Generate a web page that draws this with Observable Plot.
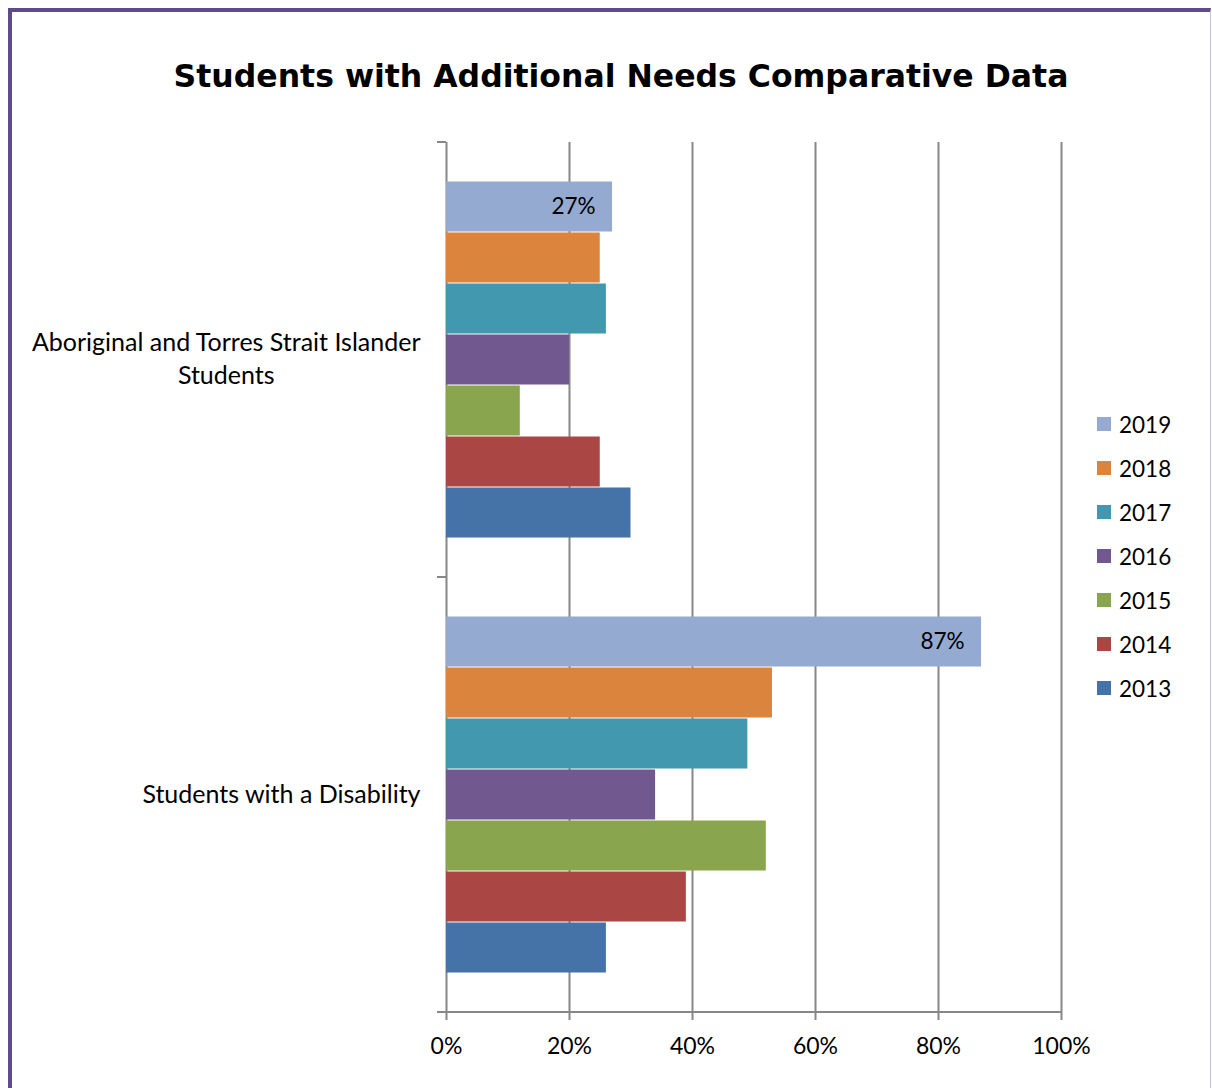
<!DOCTYPE html>
<html>
<head>
<meta charset="utf-8">
<script src="https://cdn.jsdelivr.net/npm/d3@7"></script>
<script src="https://cdn.jsdelivr.net/npm/@observablehq/plot@0.6"></script>
<style>
  html, body { margin: 0; padding: 0; background: #fff; overflow: hidden; }
  #frame {
    position: absolute; left: 8px; top: 8px; width: 1198px; height: 1100px;
    border-left: 4px solid #5f4b8b; border-top: 4px solid #5f4b8b;
    border-right: 1px solid #c9c5d6; background: #fff;
  }
  #title {
    position: absolute; left: 609px; top: 46px; transform: translateX(-50%);
    white-space: nowrap; font-family: "DejaVu Sans", Verdana, sans-serif;
    font-weight: bold; font-size: 31.5px; color: #000;
  }
  #chart { position: absolute; left: 0; top: 88px; }
  #legend {
    position: absolute; left: 1085px; top: 390px;
    font-family: Lato, sans-serif; font-size: 22.5px; color: #000;
  }
  .item { display: flex; align-items: center; height: 44px; }
  .swatch { width: 14px; height: 14px; margin-right: 8px; }
</style>
</head>
<body>
<div id="frame">
  <div id="title">Students with Additional Needs Comparative Data</div>
  <div id="chart"></div>
  <div id="legend"></div>
</div>
<script>
// Categories and their wrapped axis labels
const categories = ["Aboriginal and Torres Strait Islander Students", "Students with a Disability"];
const categoryLabels = ["Aboriginal and Torres Strait Islander\nStudents", "Students with a Disability"];

// Years, listed top to bottom within each group
const years = ["2019", "2018", "2017", "2016", "2015", "2014", "2013"];
const yearColors = ["#95aad0", "#db843d", "#4198af", "#71588f", "#89a54e", "#aa4643", "#4572a7"];

// Percentage of students, by year
const aboriginalValues = [27, 25, 26, 20, 12, 25, 30];
const disabilityValues = [87, 53, 49, 34, 52, 39, 26];

// X axis ticks (percent)
const xTicks = [0, 20, 40, 60, 80, 100];

// Year whose bars carry a value label
const labelledYear = "2019";

const rows = [
  ...years.map((year, i) => ({category: categories[0], year, value: aboriginalValues[i]})),
  ...years.map((year, i) => ({category: categories[1], year, value: disabilityValues[i]}))
];

const gridColor = "#878787";
const pct = d => `${d}%`;

const chart = Plot.plot({
  width: 1089,
  height: 972,
  marginLeft: 434,
  marginRight: 40,
  marginTop: 42,
  marginBottom: 60,
  style: {fontFamily: "Lato, sans-serif", fontSize: "22.5px", color: "#000", background: "transparent"},
  x: {domain: [0, 100]},
  y: {domain: years, paddingInner: 0, paddingOuter: 0.75, axis: null},
  fy: {domain: categories, padding: 0, axis: null},
  color: {domain: years, range: yearColors},
  marks: [
    Plot.ruleX(xTicks, {stroke: gridColor, strokeWidth: 2}),
    Plot.barX(rows, {fy: "category", y: "year", x: "value", fill: "year", insetTop: 0.5, insetBottom: 0.5}),
    Plot.text(rows.filter(d => d.year === labelledYear), {
      fy: "category", y: "year", x: "value", text: d => pct(d.value),
      textAnchor: "end", dx: -17, fill: "#000"
    }),
    Plot.text(categories, {
      fy: d => d, frameAnchor: "left", text: (d, i) => categoryLabels[i],
      textAnchor: "end", dx: -26, dy: -3, lineHeight: 1.32, fontSize: 25, fill: "#000"
    }),
    Plot.axisX({ticks: xTicks, tickFormat: pct, tickSize: 8, tickPadding: 17, stroke: gridColor, strokeWidth: 2, fill: "#000", label: null, fontSize: 23})
  ]
});

document.getElementById("chart").appendChild(chart);

// Wrapped category labels: centre each line within the label block, block right-aligned
d3.select(chart).selectAll("text").each(function() {
  const spans = d3.select(this).selectAll("tspan");
  if (spans.size() < 2) return;
  let w = 0;
  spans.each(function() { w = Math.max(w, this.getComputedTextLength()); });
  d3.select(this).attr("text-anchor", "middle");
  spans.attr("x", -w / 2);
});

// Category-axis boundary ticks and the baseline of the value axis
const xs = chart.scale("x");
const fys = chart.scale("fy");
const x0 = xs.apply(0);
const bounds = fys.domain.map(c => fys.apply(c));
const bottom = fys.apply(fys.domain[fys.domain.length - 1]) + fys.bandwidth;
const g = d3.select(chart).append("g").attr("stroke", gridColor).attr("stroke-width", 2);
bounds.forEach(y => g.append("line").attr("x1", x0 - 9).attr("x2", x0).attr("y1", y).attr("y2", y));
g.append("line").attr("x1", x0 - 9).attr("x2", xs.apply(100)).attr("y1", bottom).attr("y2", bottom);

// Legend
const color = chart.scale("color");
const legend = d3.select("#legend");
years.forEach(y => {
  const item = legend.append("div").attr("class", "item");
  item.append("div").attr("class", "swatch").style("background", color.apply(y));
  item.append("span").text(y);
});
</script>
</body>
</html>
